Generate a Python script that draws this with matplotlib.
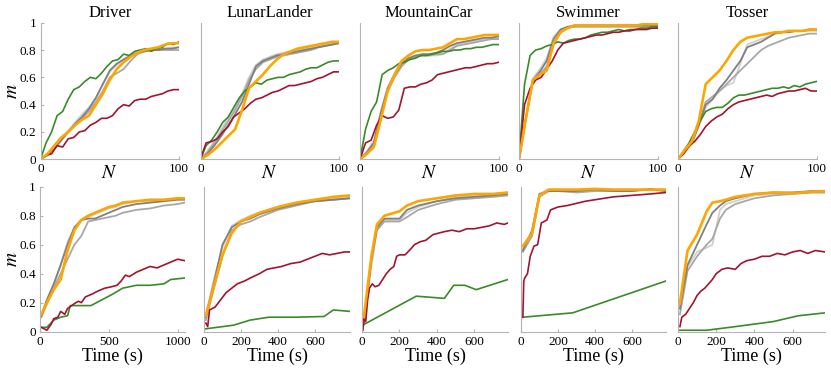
import matplotlib
matplotlib.use("Agg")
import matplotlib.pyplot as plt
import numpy as np

titles = ["Driver", "LunarLander", "MountainCar", "Swimmer", "Tosser"]

# top row: m against number of queries N
n_smooth = list(range(0, 101, 5))
n_noisy = list(range(0, 101, 4))

driver_top_orange = [0, 0.04, 0.1, 0.16, 0.2, 0.25, 0.29, 0.32, 0.4, 0.48, 0.58, 0.66, 0.71, 0.75, 0.78, 0.8, 0.81, 0.82, 0.84, 0.85, 0.85]
driver_top_dark = [0, 0.03, 0.08, 0.14, 0.2, 0.26, 0.31, 0.37, 0.45, 0.55, 0.65, 0.7, 0.73, 0.76, 0.78, 0.79, 0.8, 0.8, 0.81, 0.81, 0.82]
driver_top_mid = [0, 0.03, 0.08, 0.14, 0.2, 0.25, 0.3, 0.35, 0.42, 0.5, 0.6, 0.63, 0.66, 0.72, 0.77, 0.79, 0.8, 0.8, 0.8, 0.8, 0.8]
driver_top_light = [0, 0.04, 0.09, 0.15, 0.21, 0.27, 0.33, 0.38, 0.45, 0.55, 0.64, 0.69, 0.73, 0.76, 0.78, 0.79, 0.8, 0.81, 0.81, 0.82, 0.82]
driver_top_green = [0, 0.12, 0.2, 0.32, 0.35, 0.44, 0.51, 0.53, 0.57, 0.6, 0.59, 0.63, 0.68, 0.72, 0.73, 0.77, 0.76, 0.79, 0.8, 0.81, 0.79, 0.81, 0.82, 0.85, 0.84, 0.86]
driver_top_red = [0, 0.03, 0.04, 0.1, 0.09, 0.15, 0.16, 0.2, 0.21, 0.25, 0.27, 0.3, 0.3, 0.32, 0.37, 0.4, 0.39, 0.43, 0.44, 0.44, 0.46, 0.47, 0.48, 0.5, 0.51, 0.51]

lunar_top_orange = [0, 0.03, 0.07, 0.12, 0.17, 0.22, 0.36, 0.52, 0.57, 0.62, 0.68, 0.73, 0.77, 0.79, 0.81, 0.82, 0.83, 0.84, 0.85, 0.86, 0.86]
lunar_top_dark = [0, 0.04, 0.1, 0.17, 0.25, 0.33, 0.42, 0.55, 0.68, 0.72, 0.74, 0.76, 0.77, 0.78, 0.79, 0.8, 0.81, 0.82, 0.83, 0.84, 0.85]
lunar_top_mid = [0, 0.05, 0.12, 0.2, 0.28, 0.36, 0.46, 0.58, 0.66, 0.71, 0.73, 0.75, 0.76, 0.77, 0.78, 0.79, 0.8, 0.82, 0.83, 0.84, 0.85]
lunar_top_light = [0, 0.06, 0.13, 0.22, 0.3, 0.38, 0.48, 0.6, 0.69, 0.73, 0.75, 0.77, 0.78, 0.79, 0.8, 0.81, 0.82, 0.83, 0.84, 0.85, 0.86]
lunar_top_green = [0, 0.1, 0.14, 0.2, 0.27, 0.31, 0.38, 0.45, 0.5, 0.53, 0.56, 0.55, 0.58, 0.59, 0.6, 0.6, 0.62, 0.63, 0.64, 0.66, 0.67, 0.67, 0.69, 0.71, 0.72, 0.72]
lunar_top_red = [0, 0.12, 0.13, 0.15, 0.2, 0.24, 0.31, 0.34, 0.37, 0.41, 0.44, 0.45, 0.47, 0.49, 0.5, 0.52, 0.54, 0.54, 0.55, 0.56, 0.57, 0.59, 0.6, 0.62, 0.64, 0.64]

mcar_top_orange = [0, 0.04, 0.09, 0.29, 0.5, 0.62, 0.72, 0.76, 0.79, 0.8, 0.8, 0.81, 0.82, 0.85, 0.88, 0.88, 0.89, 0.9, 0.91, 0.91, 0.91]
mcar_top_dark = [0, 0.05, 0.12, 0.34, 0.52, 0.62, 0.7, 0.74, 0.76, 0.77, 0.77, 0.78, 0.8, 0.83, 0.85, 0.86, 0.87, 0.88, 0.89, 0.89, 0.9]
mcar_top_mid = [0, 0.05, 0.12, 0.32, 0.5, 0.6, 0.68, 0.73, 0.75, 0.76, 0.76, 0.77, 0.77, 0.8, 0.83, 0.84, 0.85, 0.86, 0.87, 0.88, 0.88]
mcar_top_light = [0, 0.06, 0.14, 0.35, 0.53, 0.63, 0.7, 0.74, 0.75, 0.76, 0.76, 0.76, 0.77, 0.81, 0.84, 0.85, 0.86, 0.87, 0.88, 0.89, 0.89]
mcar_top_green = [0, 0.22, 0.35, 0.42, 0.62, 0.65, 0.67, 0.7, 0.71, 0.73, 0.74, 0.76, 0.76, 0.77, 0.78, 0.79, 0.79, 0.8, 0.8, 0.81, 0.81, 0.82, 0.82, 0.83, 0.84, 0.84]
mcar_top_red = [0, 0.12, 0.14, 0.25, 0.32, 0.3, 0.31, 0.36, 0.52, 0.53, 0.53, 0.55, 0.56, 0.58, 0.62, 0.63, 0.64, 0.65, 0.66, 0.67, 0.67, 0.68, 0.69, 0.7, 0.7, 0.71]

swim_top_orange = [0, 0.3, 0.58, 0.62, 0.65, 0.85, 0.93, 0.96, 0.98, 0.98, 0.98, 0.98, 0.98, 0.98, 0.98, 0.98, 0.98, 0.98, 0.99, 0.99, 0.99]
swim_top_dark = [0, 0.3, 0.58, 0.64, 0.72, 0.88, 0.95, 0.97, 0.98, 0.98, 0.98, 0.98, 0.98, 0.98, 0.98, 0.98, 0.98, 0.98, 0.98, 0.98, 0.98]
swim_top_mid = [0, 0.3, 0.57, 0.62, 0.68, 0.84, 0.93, 0.96, 0.97, 0.97, 0.97, 0.97, 0.97, 0.97, 0.97, 0.97, 0.97, 0.97, 0.97, 0.98, 0.98]
swim_top_light = [0, 0.31, 0.59, 0.66, 0.74, 0.9, 0.95, 0.97, 0.97, 0.98, 0.98, 0.98, 0.98, 0.98, 0.98, 0.98, 0.98, 0.98, 0.98, 0.98, 0.98]
swim_top_green = [0, 0.55, 0.76, 0.8, 0.81, 0.83, 0.84, 0.86, 0.85, 0.87, 0.88, 0.88, 0.89, 0.91, 0.92, 0.93, 0.93, 0.94, 0.95, 0.94, 0.95, 0.95, 0.96, 0.96, 0.97, 0.97]
swim_top_red = [0, 0.4, 0.52, 0.58, 0.6, 0.66, 0.72, 0.8, 0.85, 0.86, 0.87, 0.88, 0.89, 0.9, 0.91, 0.91, 0.92, 0.93, 0.93, 0.94, 0.94, 0.95, 0.95, 0.95, 0.96, 0.96]

toss_top_orange = [0, 0.07, 0.13, 0.28, 0.55, 0.6, 0.65, 0.72, 0.8, 0.86, 0.89, 0.9, 0.91, 0.92, 0.93, 0.93, 0.94, 0.94, 0.94, 0.95, 0.95]
toss_top_dark = [0, 0.06, 0.12, 0.25, 0.4, 0.44, 0.52, 0.58, 0.65, 0.72, 0.82, 0.84, 0.86, 0.89, 0.92, 0.93, 0.93, 0.94, 0.94, 0.95, 0.95]
toss_top_mid = [0, 0.06, 0.12, 0.26, 0.42, 0.46, 0.5, 0.55, 0.6, 0.65, 0.7, 0.75, 0.8, 0.83, 0.85, 0.87, 0.89, 0.9, 0.91, 0.92, 0.92]
toss_top_light = [0, 0.05, 0.11, 0.24, 0.38, 0.44, 0.5, 0.54, 0.56, 0.7, 0.84, 0.86, 0.88, 0.9, 0.92, 0.93, 0.93, 0.94, 0.94, 0.94, 0.94]
toss_top_green = [0, 0.06, 0.12, 0.2, 0.28, 0.35, 0.37, 0.38, 0.38, 0.41, 0.45, 0.47, 0.47, 0.48, 0.49, 0.5, 0.51, 0.52, 0.52, 0.53, 0.52, 0.54, 0.53, 0.55, 0.56, 0.57]
toss_top_red = [0, 0.04, 0.1, 0.13, 0.18, 0.24, 0.28, 0.31, 0.33, 0.37, 0.4, 0.42, 0.43, 0.44, 0.45, 0.46, 0.47, 0.46, 0.48, 0.49, 0.5, 0.5, 0.51, 0.52, 0.5, 0.5]

# bottom row: m against wall-clock time (s)
driver_t = [10, 50, 100, 150, 200, 250, 300, 350, 400, 450, 500, 550, 600, 700, 800, 900, 1000, 1050]
driver_bot_orange = [0.12, 0.2, 0.29, 0.36, 0.56, 0.7, 0.77, 0.8, 0.82, 0.84, 0.86, 0.87, 0.89, 0.9, 0.91, 0.91, 0.92, 0.92]
driver_bot_dark = [0.11, 0.22, 0.33, 0.46, 0.6, 0.72, 0.77, 0.78, 0.78, 0.8, 0.82, 0.84, 0.86, 0.88, 0.89, 0.9, 0.91, 0.91]
driver_bot_mid = [0.1, 0.19, 0.3, 0.4, 0.5, 0.6, 0.66, 0.76, 0.77, 0.78, 0.79, 0.8, 0.82, 0.84, 0.85, 0.87, 0.88, 0.89]
driver_bot_light = [0.12, 0.21, 0.32, 0.46, 0.62, 0.72, 0.77, 0.79, 0.81, 0.83, 0.85, 0.86, 0.88, 0.9, 0.9, 0.91, 0.92, 0.92]
driver_green_t = [10, 50, 100, 150, 200, 220, 300, 370, 450, 530, 600, 700, 800, 900, 950, 1050]
driver_bot_green = [0.03, 0.03, 0.08, 0.1, 0.11, 0.18, 0.18, 0.18, 0.22, 0.26, 0.3, 0.32, 0.32, 0.33, 0.36, 0.37]
driver_red_t = [10, 30, 50, 80, 100, 130, 150, 180, 200, 230, 260, 280, 300, 330, 380, 420, 470, 520, 560, 590, 620, 650, 700, 750, 800, 850, 900, 950, 1000, 1050]
driver_bot_red = [0.03, 0.02, 0.01, 0.05, 0.09, 0.1, 0.14, 0.12, 0.16, 0.18, 0.2, 0.21, 0.2, 0.24, 0.26, 0.28, 0.3, 0.31, 0.32, 0.35, 0.39, 0.38, 0.41, 0.43, 0.45, 0.44, 0.46, 0.48, 0.5, 0.49]

lunar_t = [10, 50, 100, 150, 200, 250, 300, 400, 500, 600, 700, 790]
lunar_bot_orange = [0.11, 0.3, 0.53, 0.68, 0.76, 0.79, 0.82, 0.86, 0.89, 0.91, 0.93, 0.94]
lunar_bot_dark = [0.1, 0.32, 0.6, 0.72, 0.76, 0.78, 0.81, 0.85, 0.88, 0.9, 0.91, 0.92]
lunar_bot_mid = [0.08, 0.28, 0.52, 0.7, 0.74, 0.76, 0.79, 0.84, 0.87, 0.9, 0.91, 0.92]
lunar_bot_light = [0.12, 0.34, 0.58, 0.73, 0.77, 0.8, 0.82, 0.86, 0.89, 0.91, 0.92, 0.93]
lunar_green_t = [10, 160, 250, 350, 500, 650, 700, 790]
lunar_bot_green = [0.02, 0.045, 0.08, 0.1, 0.1, 0.105, 0.15, 0.14]
lunar_red_t = [10, 20, 30, 60, 90, 120, 150, 180, 220, 250, 300, 340, 380, 420, 470, 520, 560, 600, 640, 680, 720, 760, 790]
lunar_bot_red = [0.06, 0.035, 0.15, 0.17, 0.22, 0.27, 0.3, 0.33, 0.35, 0.37, 0.4, 0.43, 0.44, 0.45, 0.47, 0.48, 0.5, 0.52, 0.54, 0.53, 0.54, 0.55, 0.55]

mcar_t = [10, 50, 80, 120, 200, 240, 300, 400, 500, 600, 700, 780]
mcar_bot_orange = [0.1, 0.52, 0.74, 0.8, 0.83, 0.87, 0.9, 0.92, 0.94, 0.95, 0.95, 0.96]
mcar_bot_dark = [0.05, 0.5, 0.72, 0.78, 0.78, 0.84, 0.87, 0.9, 0.92, 0.93, 0.94, 0.95]
mcar_bot_mid = [0.06, 0.48, 0.7, 0.76, 0.76, 0.79, 0.84, 0.88, 0.91, 0.92, 0.93, 0.94]
mcar_bot_light = [0.05, 0.45, 0.71, 0.77, 0.77, 0.82, 0.86, 0.9, 0.93, 0.94, 0.95, 0.96]
mcar_green_t = [10, 290, 440, 490, 550, 610, 780]
mcar_bot_green = [0.05, 0.245, 0.23, 0.32, 0.32, 0.29, 0.36]
mcar_red_t = [5, 10, 20, 30, 40, 55, 70, 90, 110, 130, 150, 170, 185, 200, 230, 260, 280, 310, 340, 380, 410, 440, 480, 520, 560, 600, 640, 680, 720, 760, 780]
mcar_bot_red = [0.01, 0.1, 0.07, 0.22, 0.3, 0.33, 0.31, 0.32, 0.36, 0.4, 0.43, 0.45, 0.52, 0.53, 0.53, 0.57, 0.6, 0.62, 0.63, 0.67, 0.68, 0.69, 0.7, 0.69, 0.71, 0.71, 0.72, 0.73, 0.75, 0.74, 0.75]

swim_t = [10, 60, 100, 150, 200, 300, 400, 500, 600, 700, 785]
swim_bot_orange = [0.59, 0.68, 0.94, 0.98, 0.98, 0.98, 0.985, 0.98, 0.98, 0.98, 0.98]
swim_bot_dark = [0.56, 0.7, 0.95, 0.97, 0.97, 0.97, 0.98, 0.97, 0.97, 0.985, 0.97]
swim_bot_mid = [0.55, 0.66, 0.93, 0.97, 0.97, 0.96, 0.97, 0.97, 0.97, 0.98, 0.97]
swim_bot_light = [0.57, 0.69, 0.95, 0.98, 0.98, 0.97, 0.98, 0.98, 0.98, 0.98, 0.98]
swim_green_t = [10, 280, 785]
swim_bot_green = [0.1, 0.13, 0.35]
swim_red_t = [10, 15, 20, 35, 50, 70, 90, 110, 140, 160, 200, 250, 300, 350, 400, 450, 500, 600, 700, 785]
swim_bot_red = [0.1, 0.35, 0.37, 0.4, 0.52, 0.59, 0.6, 0.75, 0.77, 0.84, 0.86, 0.87, 0.885, 0.9, 0.91, 0.92, 0.93, 0.94, 0.95, 0.96]

toss_t = [10, 50, 100, 150, 180, 220, 250, 300, 400, 500, 600, 700, 770]
toss_bot_orange = [0.195, 0.56, 0.67, 0.83, 0.89, 0.9, 0.91, 0.93, 0.95, 0.96, 0.955, 0.965, 0.97]
toss_bot_dark = [0.16, 0.46, 0.6, 0.74, 0.82, 0.87, 0.9, 0.92, 0.95, 0.96, 0.96, 0.97, 0.97]
toss_bot_mid = [0.12, 0.42, 0.52, 0.6, 0.64, 0.78, 0.84, 0.88, 0.92, 0.94, 0.95, 0.96, 0.96]
toss_bot_light = [0.18, 0.45, 0.55, 0.58, 0.6, 0.84, 0.88, 0.9, 0.94, 0.95, 0.96, 0.96, 0.96]
toss_green_t = [10, 150, 300, 500, 630, 770]
toss_bot_green = [0.01, 0.01, 0.035, 0.07, 0.11, 0.13]
toss_red_t = [10, 20, 40, 60, 80, 100, 120, 140, 160, 180, 200, 230, 260, 300, 330, 360, 400, 440, 480, 520, 560, 600, 640, 680, 720, 770]
toss_bot_red = [0.035, 0.1, 0.12, 0.16, 0.2, 0.25, 0.28, 0.3, 0.33, 0.36, 0.4, 0.43, 0.44, 0.43, 0.47, 0.49, 0.5, 0.52, 0.52, 0.54, 0.53, 0.55, 0.56, 0.54, 0.56, 0.55]

ORANGE = '#ffa500'
RED = '#a2142f'
GREEN = '#3a8a2a'
DARK = '#808080'
MID = '#a8a8a8'
LIGHT = '#d0d0d0'
SPINE = '#b4b4b4'

W, H = 831, 371


def px_axes(fig, left, right, top, bottom):
    return fig.add_axes([left / W, 1 - bottom / H, (right - left) / W, (bottom - top) / H])


def style(ax, first, left, width):
    for s in ['top', 'right']:
        ax.spines[s].set_visible(False)
    for s in ['left', 'bottom']:
        ax.spines[s].set_color(SPINE)
        ax.spines[s].set_linewidth(0.8)
    ax.tick_params(direction='in', length=2.5, color=SPINE, labelsize=9.5, pad=3)
    ax.set_ylim(0, 1)
    ax.set_yticks([0, 0.2, 0.4, 0.6, 0.8, 1])
    if first:
        ax.set_yticklabels(['0', '0.2', '0.4', '0.6', '0.8', '1'])
        ax.set_ylabel('$m$', fontsize=14)
        # keep the rotated label (with its line box) inside the figure
        ax.yaxis.set_label_coords((21 - left) / width, 0.5)
    else:
        ax.tick_params(axis='y', labelleft=False, length=0)


def draw(ax, xs, dark, mid, light, orange, xg, green, xr, red):
    ax.plot(xs, light, color=LIGHT, lw=1.3)
    ax.plot(xs, mid, color=MID, lw=1.3)
    ax.plot(xs, dark, color=DARK, lw=1.3)
    ax.plot(xg, green, color=GREEN, lw=1.2)
    ax.plot(xr, red, color=RED, lw=1.2)
    ax.plot(xs, orange, color=ORANGE, lw=1.9)


def main():
    plt.rcParams['font.family'] = ['Liberation Serif', 'DejaVu Serif']
    plt.rcParams['mathtext.fontset'] = 'stix'
    fig = plt.figure(figsize=(W / 100, H / 100), dpi=100)

    top = [
        (driver_top_dark, driver_top_mid, driver_top_light, driver_top_orange, driver_top_green, driver_top_red),
        (lunar_top_dark, lunar_top_mid, lunar_top_light, lunar_top_orange, lunar_top_green, lunar_top_red),
        (mcar_top_dark, mcar_top_mid, mcar_top_light, mcar_top_orange, mcar_top_green, mcar_top_red),
        (swim_top_dark, swim_top_mid, swim_top_light, swim_top_orange, swim_top_green, swim_top_red),
        (toss_top_dark, toss_top_mid, toss_top_light, toss_top_orange, toss_top_green, toss_top_red),
    ]
    top_left = [40.5, 200.5, 360, 519, 678]
    for i, (d, m, l, o, g, r) in enumerate(top):
        ax = px_axes(fig, top_left[i], top_left[i] + 138.5, 22.7, 159.3)
        draw(ax, n_smooth, d, m, l, o, n_noisy, g, n_noisy, r)
        style(ax, i == 0, top_left[i], 138.5)
        ax.set_xlim(0, 100)
        ax.set_xticks([0, 100])
        ax.set_xlabel('$N$', fontsize=14)
        ax.xaxis.set_label_coords(0.5, -0.04, transform=ax.transAxes)
        ax.xaxis.label.set_va('top')
        ax.set_title(titles[i], fontsize=12, pad=4)

    bottom = [
        (driver_t, driver_bot_dark, driver_bot_mid, driver_bot_light, driver_bot_orange, driver_green_t, driver_bot_green, driver_red_t, driver_bot_red),
        (lunar_t, lunar_bot_dark, lunar_bot_mid, lunar_bot_light, lunar_bot_orange, lunar_green_t, lunar_bot_green, lunar_red_t, lunar_bot_red),
        (mcar_t, mcar_bot_dark, mcar_bot_mid, mcar_bot_light, mcar_bot_orange, mcar_green_t, mcar_bot_green, mcar_red_t, mcar_bot_red),
        (swim_t, swim_bot_dark, swim_bot_mid, swim_bot_light, swim_bot_orange, swim_green_t, swim_bot_green, swim_red_t, swim_bot_red),
        (toss_t, toss_bot_dark, toss_bot_mid, toss_bot_light, toss_bot_orange, toss_green_t, toss_bot_green, toss_red_t, toss_bot_red),
    ]
    bot_left = [40, 204, 362, 521, 678]
    bot_right = [184.5, 350, 508, 666, 825]
    for i, (t, d, m, l, o, tg, g, tr, r) in enumerate(bottom):
        ax = px_axes(fig, bot_left[i], bot_right[i], 186.7, 331.7)
        draw(ax, t, d, m, l, o, tg, g, tr, r)
        style(ax, i == 0, bot_left[i], bot_right[i] - bot_left[i])
        ax.set_xlim(0, max(t))
        if i == 0:
            ax.set_xticks([0, 500, 1000])
        else:
            ax.set_xticks([0, 200, 400, 600])
        ax.set_xlabel('Time (s)', fontsize=13, labelpad=0)

    fig.savefig('out.png', dpi=100)


if __name__ == '__main__':
    main()
